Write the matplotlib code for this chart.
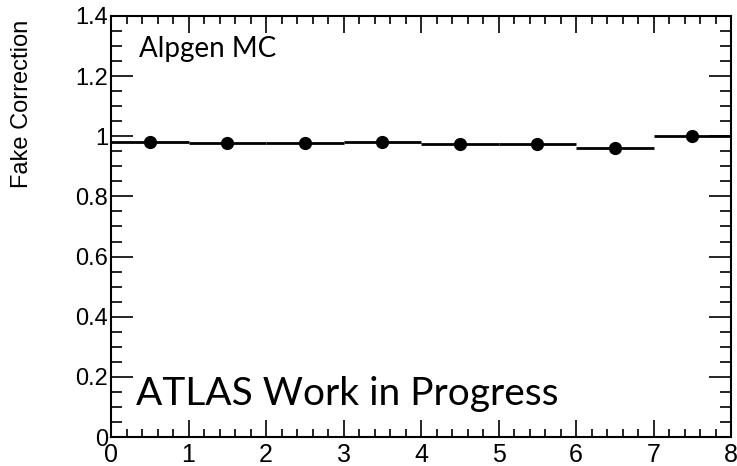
import numpy as np
import matplotlib.pyplot as plt
from matplotlib.ticker import MultipleLocator

# per-bin fake correction from Alpgen MC
bin_edges = [0, 1, 2, 3, 4, 5, 6, 7, 8]
correction = [0.980, 0.979, 0.979, 0.980, 0.974, 0.973, 0.960, 1.001]
correction_err = [0.004, 0.004, 0.004, 0.004, 0.004, 0.004, 0.010, 0.004]

plt.rcParams['font.family'] = ['Liberation Sans', 'DejaVu Sans']

fig = plt.figure(figsize=(7.37, 4.66), dpi=100)
ax = fig.add_axes([111 / 737, 29 / 466, 620 / 737, 421 / 466])

centers = 0.5 * (np.array(bin_edges[:-1]) + np.array(bin_edges[1:]))
ax.hlines(correction, bin_edges[:-1], bin_edges[1:], color='black', lw=2)
ax.errorbar(centers, correction, yerr=correction_err, fmt='o', color='black',
            ms=8.5, elinewidth=1.5, capsize=0)

ax.set_xlim(0, 8)
ax.set_ylim(0, 1.4)
ax.xaxis.set_major_locator(MultipleLocator(1))
ax.xaxis.set_minor_locator(MultipleLocator(0.2))
ax.yaxis.set_minor_locator(MultipleLocator(0.05))
ax.set_yticks([0, 0.2, 0.4, 0.6, 0.8, 1, 1.2, 1.4])
ax.set_yticklabels(['0', '0.2', '0.4', '0.6', '0.8', '1', '1.2', '1.4'])

ax.tick_params(which='both', direction='in', top=True, right=True, width=1.2,
               labelsize=17, colors='black')
ax.tick_params(axis='y', which='major', length=16, pad=2)
ax.tick_params(axis='y', which='minor', length=8)
ax.tick_params(axis='x', which='major', length=12, pad=4, labelsize=18)
ax.tick_params(axis='x', which='minor', length=6)
for s in ax.spines.values():
    s.set_linewidth(1.5)

ax.set_ylabel('Fake Correction', fontsize=17)
ax.yaxis.set_label_coords(-0.125, 0.792)

futura = ['Lato', 'DejaVu Sans']
ax.text(0.045, 0.903, 'Alpgen MC', transform=ax.transAxes, fontsize=20,
        family=futura, va='baseline')
ax.text(0.04, 0.076, 'ATLAS Work in Progress', transform=ax.transAxes,
        fontsize=28, family=futura, va='baseline')

fig.savefig('out.png', dpi=100)
